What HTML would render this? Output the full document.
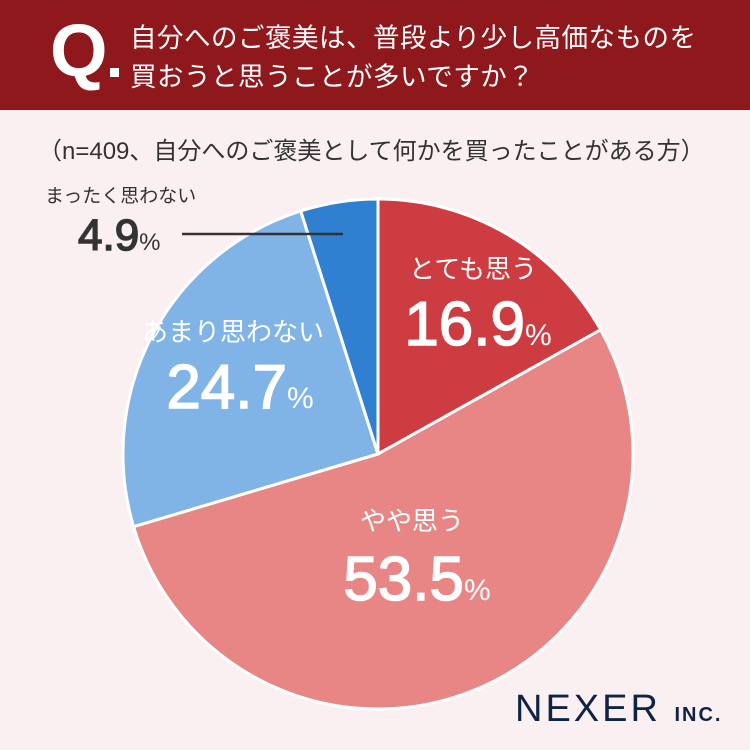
<!DOCTYPE html>
<html><head><meta charset="utf-8"><style>
body{margin:0;width:750px;height:750px;background:#fbf0f1;font-family:"Liberation Sans","Noto Sans CJK JP",sans-serif;overflow:hidden;position:relative}
#hdr{position:absolute;left:0;top:0;width:750px;height:110px;background:#8e181b}
.q{position:absolute;left:50px;top:14px;color:#fff;font-size:74px;font-weight:bold;line-height:1}
.dot{position:absolute;left:110px;top:68px;width:9px;height:9px;background:#fff}
.qt{position:absolute;left:130px;top:19px;color:#fff;font-size:26.5px;line-height:39px;letter-spacing:0.5px;white-space:nowrap}
.sub{position:absolute;left:38px;top:131px;font-size:24px;color:#333;white-space:nowrap}
svg{position:absolute;left:0;top:0}
.logo{position:absolute;left:515px;top:690px;color:#0f2444;font-size:38px;letter-spacing:3px;line-height:1;white-space:nowrap}
.logo span{font-size:20px;font-weight:bold;letter-spacing:2px}
</style></head><body>
<div id="hdr">
<div class="q">Q</div><div class="dot"></div>
<div class="qt">自分へのご褒美は、普段より少し高価なものを<br>買おうと思うことが多いですか？</div>
</div>
<div class="sub">（n=409、自分へのご褒美として何かを買ったことがある方）</div>
<svg id="chart" width="750" height="750"></svg>
<div class="logo">NEXER <span>INC.</span></div>
<script>
const categories=["とても思う","やや思う","あまり思わない","まったく思わない"];
const values=[16.9,53.5,24.7,4.9];
const colors=["#cc3c40","#e88686","#80b3e6","#2f80d1"];
const svg=document.getElementById('chart');
const NS="http://www.w3.org/2000/svg";
const cx=378,cy=454,r=255;
const total=values.reduce((a,b)=>a+b,0);
function pt(a,rr){return [cx+rr*Math.sin(a),cy-rr*Math.cos(a)];}
let a0=0;
values.forEach((v,i)=>{
 const a1=a0+v/total*2*Math.PI;
 const p0=pt(a0,r),p1=pt(a1,r);
 const p=document.createElementNS(NS,'path');
 p.setAttribute('d',`M${cx},${cy}L${p0[0]},${p0[1]}A${r},${r} 0 ${a1-a0>Math.PI?1:0} 1 ${p1[0]},${p1[1]}Z`);
 p.setAttribute('fill',colors[i]);p.setAttribute('stroke','#fff');p.setAttribute('stroke-width','3');
 
 
 svg.appendChild(p);
 a0=a1;
});
function txt(x,y,s,size,fill,anchor,name){
 const t=document.createElementNS(NS,'text');
 t.setAttribute('x',x);t.setAttribute('y',y);t.setAttribute('font-size',size);t.setAttribute('fill',fill);
 t.setAttribute('text-anchor',anchor||'middle');t.setAttribute('font-family','"Liberation Sans","Noto Sans CJK JP",sans-serif');
 
 
 t.innerHTML=s;svg.appendChild(t);return t;
}
function pct(v,ps){return `${v.toFixed(1)}<tspan font-size="${ps}" stroke-width="0">%</tspan>`;}
function big(t,c){t.setAttribute('stroke',c);t.setAttribute('stroke-width','1.5');}
txt(473,278,categories[0],26,'#fff','middle','label-cat-0');
big(txt(478,345,pct(values[0],30),62,'#fff','middle','label-val-0'),'#fff');
txt(412,530,categories[1],26,'#fff','middle','label-cat-1');
big(txt(417,600,pct(values[1],30),62,'#fff','middle','label-val-1'),'#fff');
txt(233,341,categories[2],26,'#fff','middle','label-cat-2');
big(txt(240,408,pct(values[2],30),62,'#fff','middle','label-val-2'),'#fff');
txt(45,202,categories[3],19,'#333','start','label-cat-3');
big(txt(78,250,pct(values[3],24),44,'#333','start','label-val-3'),'#333');
const ln=document.createElementNS(NS,'line');
ln.setAttribute('x1',182);ln.setAttribute('y1',234);ln.setAttribute('x2',343);ln.setAttribute('y2',234);
ln.setAttribute('stroke','#333');ln.setAttribute('stroke-width','2.5');


svg.appendChild(ln);
</script>
</body></html>
